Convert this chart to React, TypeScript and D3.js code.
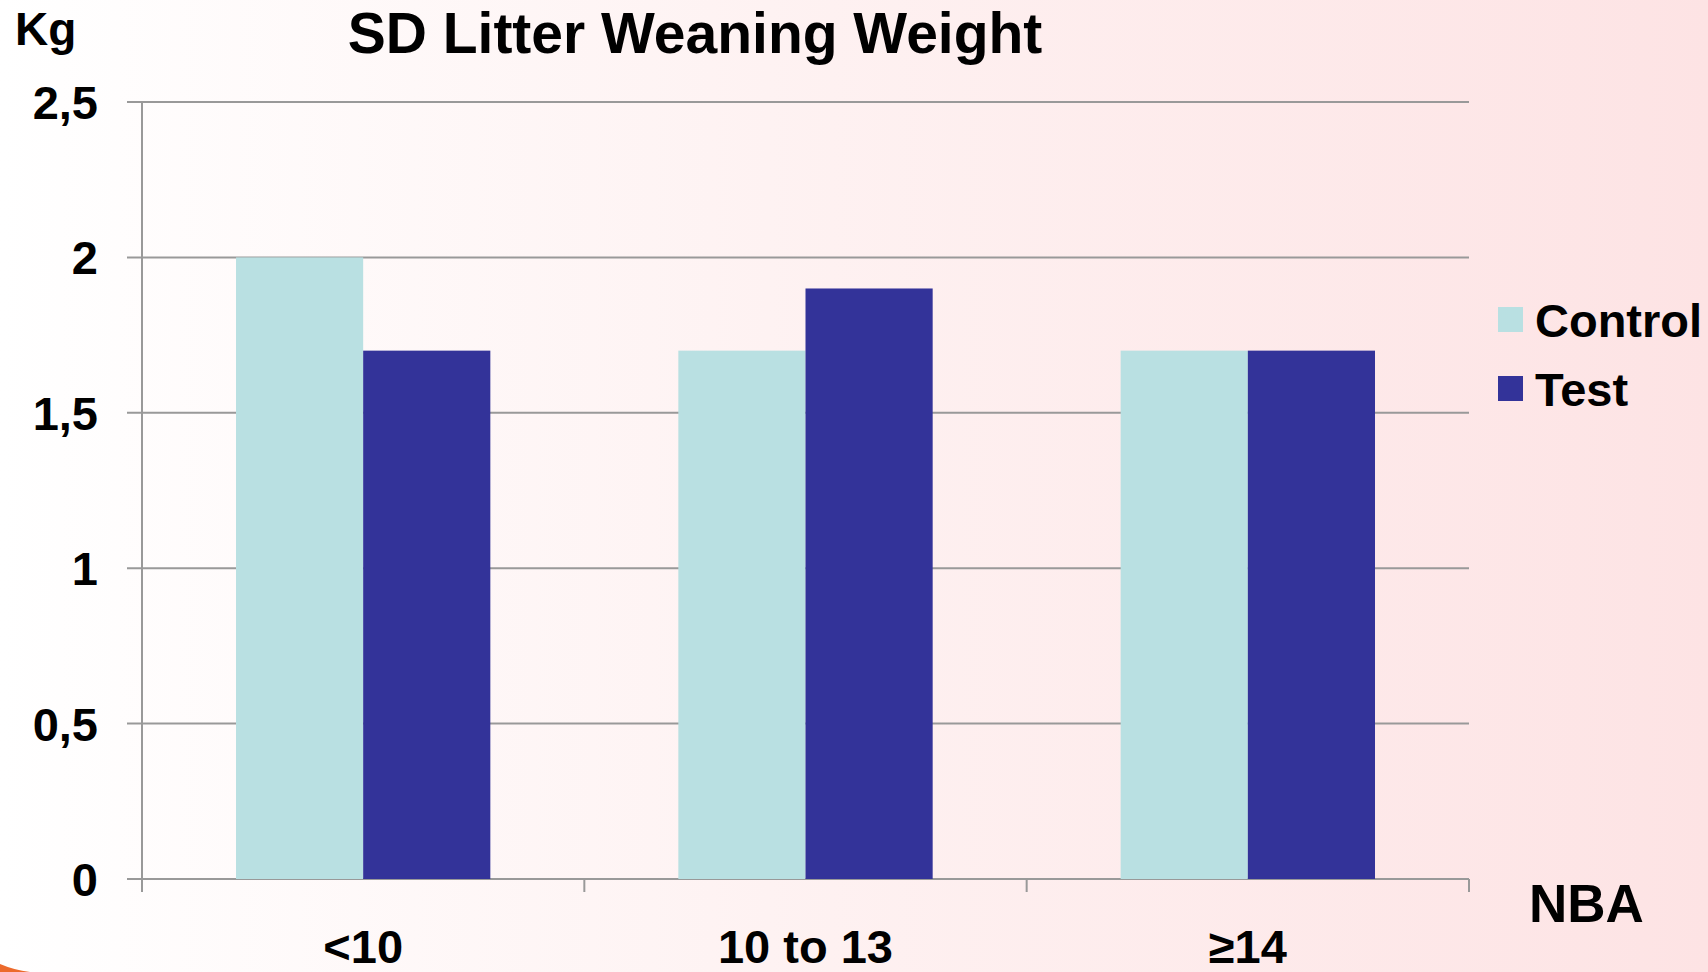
import * as React from 'react'
import * as d3 from 'd3'

const categories = ['<10', '10 to 13', '≥14']
const seriesNames = ['Control', 'Test']
const control = [2.0, 1.7, 1.7]
const test = [1.7, 1.9, 1.7]
const yTicks = [0, 0.5, 1, 1.5, 2, 2.5]
const yTickLabels = ['0', '0,5', '1', '1,5', '2', '2,5']

const W = 1708
const H = 972
const colors = ['#b9e0e2', '#333399']
const font = 'Liberation Sans, Arial, sans-serif'

export default function App() {
  const left = 142
  const right = 1469
  const top = 102
  const bottom = 879

  const x = d3.scaleBand().domain(categories).range([left, right]).paddingInner(0.425).paddingOuter(0.2125)
  const xSeries = d3.scaleBand().domain(seriesNames).range([0, x.bandwidth()])
  const y = d3.scaleLinear().domain([0, 2.5]).range([bottom, top])
  const values = [control, test]
  const step = (right - left) / categories.length

  return (
    <svg width={W} height={H} style={{ position: 'fixed', left: 0, top: 0 }}>
      <defs>
        <linearGradient id="bg" x1="0" y1="0" x2="1" y2="0">
          <stop offset="0" stopColor="#ffffff" />
          <stop offset="0.45" stopColor="#fef2f2" />
          <stop offset="1" stopColor="#fde3e4" />
        </linearGradient>
      </defs>
      <rect x={0} y={0} width={W} height={H} fill="url(#bg)" />
      <path d="M0,964 Q14,970 30,972 L0,972 Z" fill="#ec6a2c" />

      {yTicks.map((t, i) => (
        <g key={t}>
          <line x1={left - 15} x2={right} y1={y(t)} y2={y(t)} stroke="#999" strokeWidth={2} />
          <text x={98} y={y(t) + 17} textAnchor="end" fontFamily={font} fontWeight="bold" fontSize={47}>
            {yTickLabels[i]}
          </text>
        </g>
      ))}

      {categories.map((c, ci) =>
        values.map((vals, si) => (
          <rect
            key={c + si}
            x={(x(c) as number) + (xSeries(seriesNames[si]) as number)}
            y={y(vals[ci])}
            width={xSeries.bandwidth()}
            height={bottom - y(vals[ci])}
            fill={colors[si]}
          />
        ))
      )}

      <line x1={left} x2={left} y1={top} y2={bottom + 13} stroke="#999" strokeWidth={2} />
      {d3.range(categories.length + 1).map((i) => (
        <line key={i} x1={left + i * step} x2={left + i * step} y1={bottom} y2={bottom + 13} stroke="#999" strokeWidth={2} />
      ))}

      {categories.map((c) => (
        <text
          key={c}
          x={(x(c) as number) + x.bandwidth() / 2}
          y={963}
          textAnchor="middle"
          fontFamily={font}
          fontWeight="bold"
          fontSize={47}
        >
          {c}
        </text>
      ))}

      <text x={15} y={45} fontFamily={font} fontWeight="bold" fontSize={46}>Kg</text>
      <text x={695} y={53} textAnchor="middle" fontFamily={font} fontWeight="bold" fontSize={57}>
        SD Litter Weaning Weight
      </text>
      <text x={1529} y={922} fontFamily={font} fontWeight="bold" fontSize={53}>NBA</text>

      {seriesNames.map((s, i) => (
        <g key={s} transform={`translate(1498,${307 + i * 69})`}>
          <rect width={25} height={25} fill={colors[i]} />
          <text x={37} y={30} fontFamily={font} fontWeight="bold" fontSize={47}>{s}</text>
        </g>
      ))}
    </svg>
  )
}
